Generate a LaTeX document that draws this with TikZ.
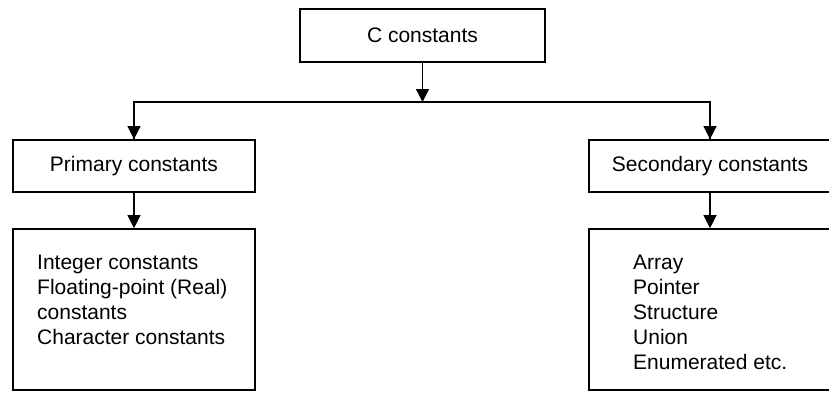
\documentclass[tikz,border=0pt]{standalone}
\usepackage{fontspec}
\setmainfont{Liberation Sans}
\usetikzlibrary{arrows.meta}
\begin{document}
\begin{tikzpicture}[x=1pt,y=-1pt,
  box/.style={draw, line width=1.7pt, inner sep=0pt, minimum width=242pt,
    font=\fontsize{21}{25}\selectfont},
  listtext/.style={anchor=north west, inner sep=0pt, align=left,
    font=\fontsize{21}{25}\selectfont},
  link/.style={line width=1.3pt, -{Triangle[width=13pt,length=13pt]}},
  bar/.style={line width=1.3pt}]
\useasboundingbox (0,0) rectangle (829,392);
\clip (0,0) rectangle (829,392);

% top level
\node[box, minimum width=245pt, minimum height=53pt] (root) at (422.5,35.5) {C constants};
\coordinate (hub) at (422.5,102);

% second level
\node[box, minimum height=52pt] (prim) at (134,166) {Primary constants};
\node[box, minimum height=52pt] (sec) at (710,166) {Secondary constants};

% third level boxes
\node[box, minimum height=161pt] (primlist) at (134,309.5) {};
\node[box, minimum height=161pt] (seclist) at (710,309.5) {};

\node[listtext] (primitems) at (37,254.5)
  {Integer constants\\Floating-point (Real)\\constants\\Character constants};
\node[listtext] (secitems) at (633,254.5)
  {Array\\Pointer\\Structure\\Union\\Enumerated etc.};

% connectors
\draw[link] (root.south) -- (hub);
\draw[bar] (hub) -| (prim.north);
\draw[bar] (hub) -| (sec.north);
\draw[link] (hub -| prim.north) -- (prim.north);
\draw[link] (hub -| sec.north) -- (sec.north);
\draw[link] (prim.south) -- (primlist.north);
\draw[link] (sec.south) -- (seclist.north);
\end{tikzpicture}
\end{document}
